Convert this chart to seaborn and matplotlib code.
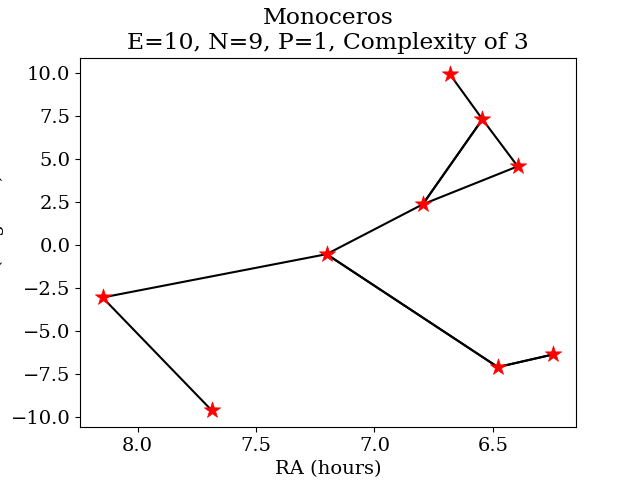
import numpy as np
import pandas as pd
from matplotlib import pyplot as plt
import seaborn as sns

# Star positions (RA in hours, Dec in degrees)
stars = ['s1', 's2', 's3', 's4', 's5', 's6', 's7', 's8', 's9']
ra = [6.681, 6.544, 6.395, 6.796, 7.202, 8.148, 7.687, 6.479, 6.244]
dec = [9.94, 7.33, 4.59, 2.38, -0.52, -3.04, -9.61, -7.09, -6.35]

# Constellation lines (pairs of star indices); some are drawn twice
edges = [(0, 1), (1, 2), (2, 3), (1, 3), (3, 1), (3, 4), (4, 5), (5, 6),
         (4, 7), (7, 4), (7, 8), (8, 7)]

plt.rcParams['font.family'] = 'DejaVu Serif'
plt.rcParams['font.size'] = 14

# Build a long table of segments for lineplot
rows = []
for k, (a, b) in enumerate(edges):
    rows.append({'edge': k, 'RA': ra[a], 'Dec': dec[a]})
    rows.append({'edge': k, 'RA': ra[b], 'Dec': dec[b]})
seg = pd.DataFrame(rows)
pts = pd.DataFrame({'star': stars, 'RA': ra, 'Dec': dec})

fig, ax = plt.subplots(figsize = (6.4, 4.8), dpi = 100)
sns.lineplot(data = seg, x = 'RA', y = 'Dec', units = 'edge', estimator = None,
             sort = False, color = 'black', linewidth = 1.5, ax = ax)
sns.scatterplot(data = pts, x = 'RA', y = 'Dec', marker = '*', color = 'red',
                s = 150, edgecolor = 'red', linewidth = 0.5, zorder = 3, ax = ax)
ax.invert_xaxis()
ax.set_xlabel('RA (hours)')
ax.set_ylabel('Dec (degrees)')
ax.yaxis.set_label_coords(-0.153, 0.5)
ax.set_title('Monoceros\nE=10, N=9, P=1, Complexity of 3')
plt.savefig('out.png')
